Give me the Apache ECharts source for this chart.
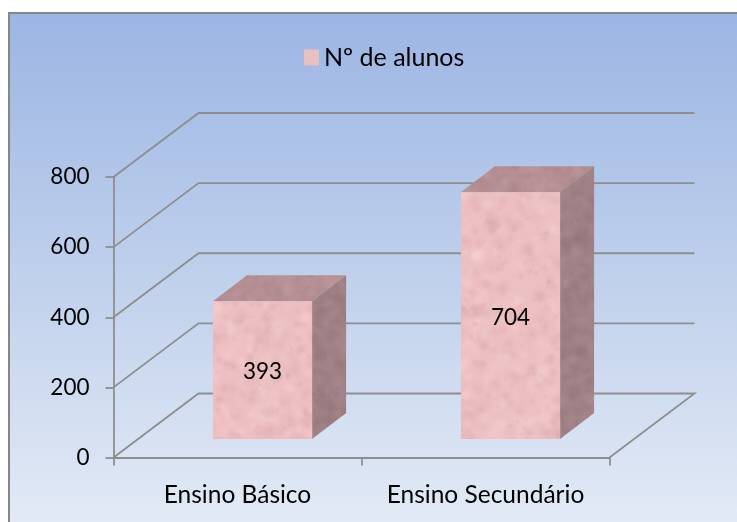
<!DOCTYPE html>
<html><head><meta charset="utf-8">
<style>html,body{margin:0;padding:0;background:#fff}#c{width:737px;height:522px}</style>
<script src="https://cdn.jsdelivr.net/npm/echarts@6/dist/echarts.min.js"></script>
</head><body><div id="c"></div>
<script>
const categories = ['Ensino Básico', 'Ensino Secundário'];
const alunos = [393, 704];
const yTicks = [0, 200, 400, 600, 800];
const seriesName = 'Nº de alunos';

const FONT = 'Lato';
const LINE = '#8e8e8e';
const WALL = [85, -64];      // depth of the back wall
const BAR_LIFT = 18.5;       // bars stand in the middle of the floor
const BAR_SHIFT = 25;
const BAR_DEPTH = [34, -26];

function texture(base, blotches, seed) {
  const cv = document.createElement('canvas');
  cv.width = 737; cv.height = 522;
  const g = cv.getContext('2d');
  g.fillStyle = base; g.fillRect(0, 0, 737, 522);
  let s = seed;
  const next = () => (s = (s * 16807) % 2147483647) / 2147483647;
  for (let i = 0; i < 9000; i++) {
    const x = next() * 737, y = next() * 522, r = 2 + next() * 8;
    const col = blotches[Math.floor(next() * blotches.length)];
    const gr = g.createRadialGradient(x, y, 0, x, y, r);
    gr.addColorStop(0, col); gr.addColorStop(1, col.replace(/[\d.]+\)$/, '0)'));
    g.fillStyle = gr; g.fillRect(x - r, y - r, r * 2, r * 2);
  }
  return { image: cv, repeat: 'repeat' };
}
const frontFill = texture('#ecbfc1', ['rgba(248,212,212,0.30)', 'rgba(212,162,168,0.30)', 'rgba(238,186,192,0.24)'], 4711);
const topFill = texture('#b58f93', ['rgba(196,162,165,0.22)', 'rgba(155,120,125,0.22)'], 977);
const sideFill = texture('#a08185', ['rgba(176,145,148,0.22)', 'rgba(138,108,113,0.24)'], 2311);

function renderWall(params, api) {
  const v = api.value(0);
  const cs = params.coordSys;
  const y = api.coord([0, v])[1];
  const x0 = cs.x, x1 = cs.x + cs.width;
  const pts = [[x0, y], [x0 + WALL[0], y + WALL[1]], [x1 + WALL[0], y + WALL[1]]];
  if (v === 0) pts.push([x1, y]);
  return { type: 'polyline', shape: { points: pts }, style: { stroke: LINE, lineWidth: 1.8, fill: null }, silent: true };
}

function renderBar(params, api) {
  const i = api.value(0), v = api.value(1);
  const band = api.size([1, 0])[0];
  const w = band * 0.4;
  const cx = api.coord([i, 0])[0] + BAR_SHIFT;
  const yb = api.coord([i, 0])[1] - BAR_LIFT;
  const yt = api.coord([i, v])[1] - BAR_LIFT;
  const xl = cx - w / 2, xr = cx + w / 2;
  const [dx, dy] = BAR_DEPTH;
  return {
    type: 'group',
    children: [
      { type: 'polygon', shape: { points: [[xl, yt], [xr, yt], [xr + dx, yt + dy], [xl + dx, yt + dy]] }, style: { fill: topFill } },
      { type: 'polygon', shape: { points: [[xr, yt], [xr + dx, yt + dy], [xr + dx, yb + dy], [xr, yb]] }, style: { fill: sideFill } },
      { type: 'rect', shape: { x: xl, y: yt, width: w, height: yb - yt }, style: { fill: frontFill } },
      { type: 'text', style: { x: cx, y: (yt + yb) / 2 + 2, text: String(v), font: '22.5px ' + FONT, fill: '#000', align: 'center', verticalAlign: 'middle' } }
    ]
  };
}

const chart = echarts.init(document.getElementById('c'), null, { renderer: 'canvas' });
chart.setOption({
  animation: false,
  backgroundColor: '#ffffff',
  graphic: [{
    type: 'rect', z: -10, silent: true,
    shape: { x: 9, y: 13, width: 740, height: 520 },
    style: {
      stroke: '#868686', lineWidth: 2,
      fill: { type: 'linear', x: 0, y: 0, x2: 0, y2: 1, colorStops: [
        { offset: 0, color: '#9bb5e3' }, { offset: 0.5, color: '#bfd0ec' }, { offset: 1, color: '#e4ebf6' }] }
    }
  }],
  legend: {
    data: [{ name: seriesName, itemStyle: { color: '#e9bfbf' } }],
    left: 299, top: 40, itemWidth: 15, itemHeight: 16, itemGap: 7, icon: 'rect', selectedMode: false,
    textStyle: { fontFamily: FONT, fontSize: 25, color: '#000' }
  },
  grid: { left: 113.5, top: 177, width: 496, height: 280.5, containLabel: false },
  xAxis: {
    type: 'category', data: categories, boundaryGap: true,
    axisLine: { lineStyle: { color: LINE, width: 1.8 } },
    axisTick: { show: true, length: 8, lineStyle: { color: LINE, width: 1.8 } },
    axisLabel: { color: '#000', fontFamily: FONT, fontSize: 24.5, margin: 25, interval: 0, hideOverlap: false },
    splitLine: { show: false }
  },
  yAxis: {
    type: 'value', min: 0, max: 800, interval: 200,
    axisLine: { show: true, lineStyle: { color: LINE, width: 1.8 } },
    axisTick: { show: true, length: 8, lineStyle: { color: LINE, width: 1.8 } },
    axisLabel: { color: '#000', fontFamily: FONT, fontSize: 22.5, margin: 24 },
    splitLine: { show: false }
  },
  series: [
    { type: 'custom', name: 'wall', coordinateSystem: 'cartesian2d', renderItem: renderWall, silent: true, clip: false,
      data: yTicks.map(v => [v, v]), encode: { x: 0, y: 1 }, z: 1 },
    { type: 'custom', name: seriesName, coordinateSystem: 'cartesian2d', renderItem: renderBar, clip: false,
      itemStyle: { color: '#e9bfbf' }, data: alunos.map((v, i) => [i, v]), encode: { x: 0, y: 1 }, z: 3 }
  ]
});
</script></body></html>
